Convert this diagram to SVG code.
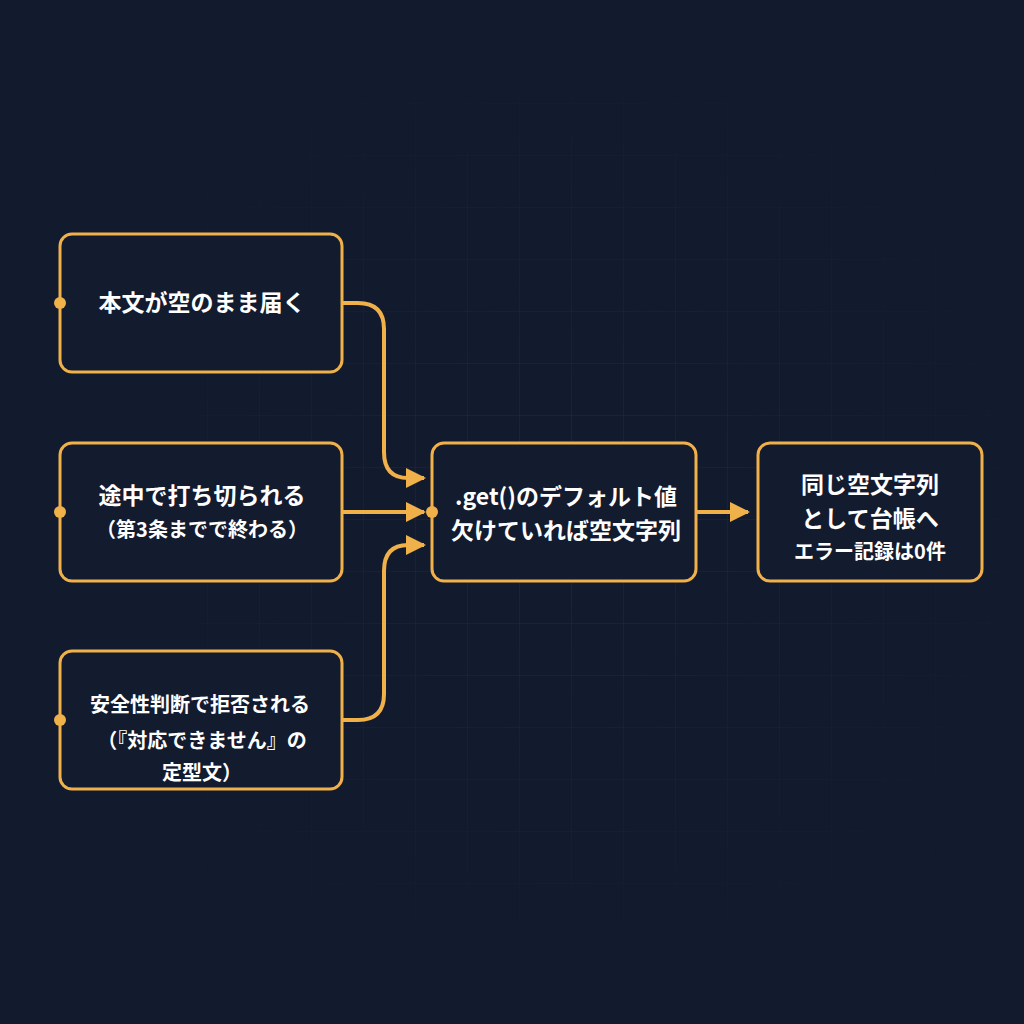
<svg xmlns="http://www.w3.org/2000/svg" width="1024" height="1024" viewBox="0 0 1024 1024">
<defs>
<marker id="ah" viewBox="0 0 10 10" refX="9" refY="5" markerWidth="5" markerHeight="5" orient="auto" markerUnits="strokeWidth"><path d="M0,0 L10,5 L0,10 z" fill="#f0b04a"/></marker>
<pattern id="grid" width="52" height="52" patternUnits="userSpaceOnUse" x="0" y="0"><path d="M52,0 V52 M0,52 H52" fill="none" stroke="#24304a" stroke-width="1"/></pattern>
<radialGradient id="fade" cx="0.55" cy="0.5" r="0.5"><stop offset="0" stop-color="#fff" stop-opacity="1"/><stop offset="1" stop-color="#fff" stop-opacity="0"/></radialGradient>
<mask id="m"><rect width="1024" height="1024" fill="url(#fade)"/></mask>
</defs>
<style>
.box{fill:#131b2f;stroke:#f0b04a;stroke-width:3}
.dot{fill:#f0b04a}
.t{fill:#fff;font-family:"Noto Sans CJK JP","Noto Sans",sans-serif;font-weight:bold;font-size:23px;text-anchor:middle}
.s{font-size:20px}
.c{fill:none;stroke:#f0b04a;stroke-width:4;marker-end:url(#ah)}
</style>
<rect width="1024" height="1024" fill="#121a2e"/>
<rect x="200" y="100" width="800" height="820" fill="url(#grid)" mask="url(#m)"/>
<g id="connectors">
<path class="c" d="M342,303 H358 Q384,303 384,329 V452 Q384,478 408,478 H424"/>
<path class="c" d="M342,512 H424"/>
<path class="c" d="M342,720 H358 Q384,720 384,694 V571 Q384,545 408,545 H424"/>
<path class="c" d="M696,512 H748"/>
</g>
<g id="nA"><rect class="box" x="60" y="234" width="282" height="138" rx="12"/><circle class="dot" cx="60" cy="303" r="6"/><text class="t" x="202" y="311">本文が空のまま届く</text></g>
<g id="nB"><rect class="box" x="60" y="443" width="282" height="138" rx="12"/><circle class="dot" cx="60" cy="512" r="6"/><text class="t" x="202" y="504">途中で打ち切られる</text><text class="t s" x="202" y="537">（第3条までで終わる）</text></g>
<g id="nC"><rect class="box" x="60" y="651" width="282" height="138" rx="12"/><circle class="dot" cx="60" cy="720" r="6"/><text class="t s" x="200" y="712">安全性判断で拒否される</text><text class="t s" x="202" y="748">（『対応できません』の</text><text class="t s" x="202" y="780">定型文）</text></g>
<g id="nD"><rect class="box" x="432" y="443" width="264" height="138" rx="12"/><circle class="dot" cx="432" cy="512" r="6"/><text class="t" x="566" y="505">.get()のデフォルト値</text><text class="t" x="566" y="539">欠けていれば空文字列</text></g>
<g id="nE"><rect class="box" x="758" y="443" width="224" height="138" rx="12"/><text class="t" x="870" y="493">同じ空文字列</text><text class="t" x="870" y="527">として台帳へ</text><text class="t s" x="870" y="559">エラー記録は0件</text></g>
</svg>
